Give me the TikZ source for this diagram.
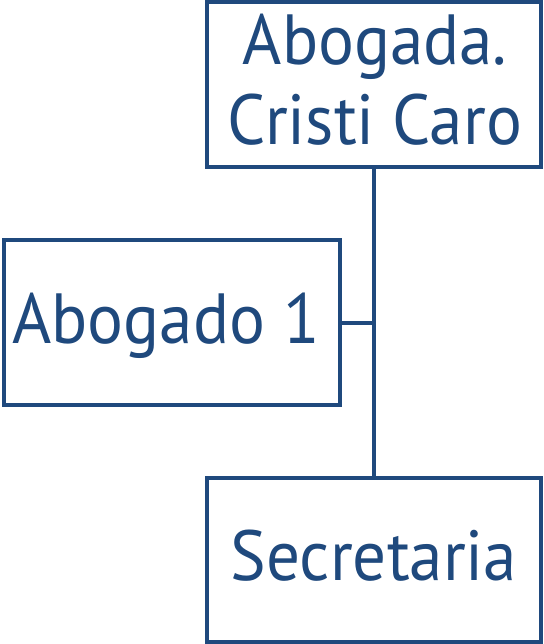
\documentclass[tikz,border=0pt]{standalone}
\usepackage{fontspec}
\setmainfont{PT Sans}[FakeStretch=0.945]
\definecolor{navy}{HTML}{1F497D}
\begin{document}
\begin{tikzpicture}[x=1pt,y=-1pt,
  box/.style={draw=navy, line width=4pt, fill=white, inner sep=0pt,
    minimum width=334pt, minimum height=165pt},
  lbl/.style={text=navy, font=\fontsize{71}{80}\selectfont, align=center,
    inner sep=0pt, anchor=base},
  link/.style={draw=navy, line width=4pt}]
\useasboundingbox (0,0) rectangle (543,644);
\node[box] (top) at (374,84.5) {};
\node[box, minimum width=336pt] (left) at (172,322.5) {};
\node[box, minimum height=164pt] (sec) at (374,560) {};
\node[lbl] (toptext) at (375,145) {Abogada.\\Cristi Caro};
\node[lbl] (lefttext) at (166,343) {Abogado 1};
\node[lbl] (sectext) at (374,580) {Secretaria};
\draw[link] (top.south) -- (sec.north);
\draw[link] (left.east) -- (left.east -| top.south);
\end{tikzpicture}
\end{document}
